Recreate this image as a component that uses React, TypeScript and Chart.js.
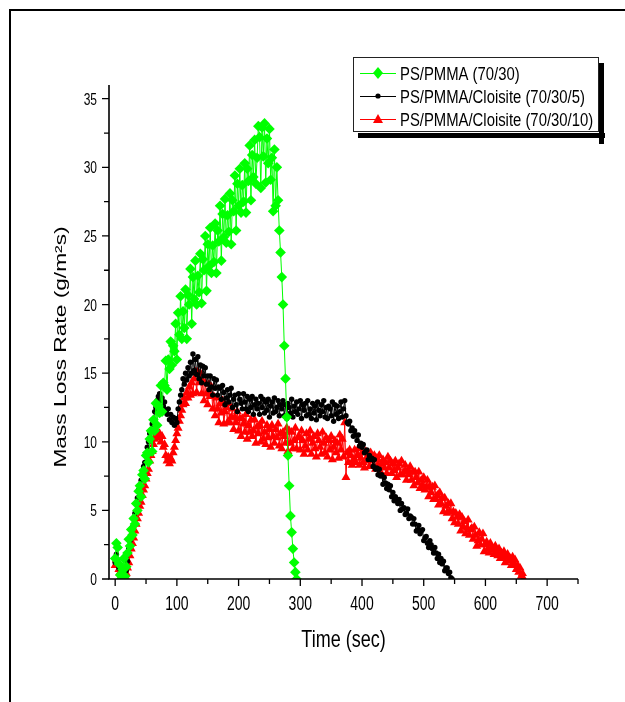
import React, { useEffect, useRef } from 'react';
import { Chart, registerables } from 'chart.js';

Chart.register(...registerables);

// ---------- data ----------
const SERIES_NAMES = [
  'PS/PMMA (70/30)',
  'PS/PMMA/Cloisite (70/30/5)',
  'PS/PMMA/Cloisite (70/30/10)',
];

// sampling interval (sec) of the recorded series
const SAMPLE_INTERVAL = 2;

// PS/PMMA (70/30), t = 0, 2, 4 ... s
const greenValues = [
  1.5, 2.6, 2.3, 1.1, 0.3, 0.0, 0.7, 1.5, 0.2, 0.9,
  1.9, 2.9, 2.4, 3.6, 3.2, 4.4, 4.0, 5.5, 5.0, 6.4,
  6.8, 6.0, 7.6, 7.9, 7.3, 9.0, 9.2, 8.5, 10.2, 10.8,
  9.3, 11.6, 10.8, 12.8, 11.2, 12.6, 12.1, 14.1, 12.2, 14.3,
  14.1, 15.9, 13.8, 16.0, 15.3, 17.3, 15.6, 17.0, 16.6, 18.6,
  16.0, 19.4, 17.8, 20.6, 17.5, 19.5, 18.3, 21.1, 17.5, 20.7,
  20.0, 22.6, 18.6, 22.0, 20.4, 23.2, 20.0, 22.1, 20.9, 23.7,
  20.1, 23.3, 22.5, 25.0, 21.0, 24.4, 22.8, 25.6, 22.3, 24.3,
  23.1, 25.9, 22.3, 25.4, 24.6, 27.2, 23.2, 26.6, 24.9, 27.7,
  24.5, 26.5, 25.3, 28.1, 24.4, 27.6, 26.8, 29.4, 25.4, 28.8,
  27.2, 29.9, 26.7, 28.7, 27.5, 30.3, 26.7, 29.9, 29.0, 31.6,
  27.6, 30.9, 29.3, 32.0, 28.8, 30.7, 33.0, 32.2, 28.5, 32.9,
  30.8, 33.2, 28.9, 32.1, 30.3, 32.8, 29.1, 30.7, 26.8, 31.3,
  27.2, 30.0, 27.6, 25.4, 23.8, 22.0, 20.0, 17.0, 14.6, 11.8,
  9.0, 6.8, 4.6, 3.4, 2.2, 1.2, 0.5, 0.0,
];

// PS/PMMA/Cloisite (70/30/5), t = 0, 2, 4 ... s
const blackValues = [
  1.2, 1.8, 1.4, 0.8, 0.3, 0.0, 0.2, 0.4, 0.1, 0.6,
  1.3, 2.2, 2.8, 3.2, 3.8, 4.4, 4.8, 5.5, 5.9, 6.5,
  6.8, 7.2, 7.6, 8.2, 8.5, 9.0, 9.6, 10.0, 10.6, 10.8,
  11.3, 11.6, 12.2, 12.5, 13.0, 13.3, 13.5, 13.0, 13.2, 12.6,
  12.9, 12.3, 12.0, 12.4, 11.6, 12.0, 11.4, 11.8, 11.2, 11.7,
  11.4, 12.4, 12.9, 13.4, 13.8, 14.6, 14.2, 15.0, 14.5, 15.4,
  14.8, 15.8, 15.0, 16.4, 15.2, 16.0, 14.9, 16.2, 14.6, 15.6,
  14.3, 15.5, 14.8, 15.4, 14.2, 14.8, 13.8, 14.8, 14.0, 13.4,
  14.6, 13.9, 14.5, 13.4, 14.0,
  13.9, 13.1, 14.1, 13.6, 12.7, 13.2, 13.8, 12.9, 13.4, 13.9,
  12.5, 13.1, 13.4, 12.7, 12.2, 13.5, 13.1, 12.8, 12.4, 13.5,
  12.9, 12.4, 13.3, 12.2, 13.1, 12.5, 13.3, 12.0, 12.7, 13.1,
  12.4, 12.8, 12.0, 13.3, 12.5, 13.1, 12.1, 12.9, 12.3, 13.1,
  11.8, 12.6, 12.9, 12.1, 13.2, 12.2, 12.5, 13.0, 11.9, 12.7,
  12.4, 13.0, 11.9, 12.7, 11.7, 12.8, 12.5, 12.1, 13.1, 11.8,
  12.6, 12.2, 12.9, 12.0, 12.4, 13.0, 11.7, 12.7, 12.3, 12.8,
  11.9, 13.0, 12.0, 12.4, 11.7, 12.8, 12.1, 12.6, 11.6, 12.9,
  12.3, 11.9, 12.7, 12.2, 13.0, 11.8, 12.5, 11.7, 12.6, 12.4,
  11.9, 12.9, 11.5, 12.7, 12.0, 12.6, 11.7, 12.2, 12.9, 11.8,
  12.4,
  13.0, 11.9, 11.4,
  11.3, 11.5, 10.8, 11.0, 10.4, 10.8, 10.5, 10.1, 10.5, 9.7,
  9.9, 9.6, 9.8, 9.2, 9.3, 9.4, 8.7, 9.0, 8.7, 8.8,
  8.2, 8.7, 8.0, 8.1, 7.6, 8.0, 7.5, 7.6, 6.9, 7.4,
  7.0, 6.6, 6.9, 6.5, 6.8, 6.0, 6.3, 5.7, 6.0, 5.8,
  5.5, 5.8, 5.0, 5.5, 5.1, 5.2, 4.7, 4.8, 5.1, 4.4,
  4.6, 4.5, 4.0, 4.4, 4.0, 3.5, 3.6, 3.9, 3.3, 3.5,
  3.6, 2.8, 3.0, 3.1, 2.6, 2.3, 2.8, 2.5, 2.2, 1.9,
  2.3, 1.9, 1.5, 1.8, 1.2, 1.5, 1.1, 1.3, 0.6, 0.8,
  0.8, 0.4, 0.5, 0.1, 0.0,
];

// PS/PMMA/Cloisite (70/30/10), t = 0, 2, 4 ... s
const redValues = [
  1.0, 1.4, 1.1, 0.7, 0.5, 0.3, 0.1, 0.0, 0.2, 0.4,
  0.8, 1.2, 1.7, 2.2, 2.6, 3.0, 3.5, 4.0, 4.4, 4.8,
  5.3, 5.6, 6.1, 6.5, 6.8, 7.3, 7.7, 8.0, 8.6, 9.0,
  9.3, 9.8, 10.2, 10.5, 10.7, 10.3, 10.6, 10.0, 10.4, 9.6,
  9.8, 9.0, 8.6, 8.9, 8.4, 8.8, 8.6, 9.2, 9.6, 10.1,
  10.6, 11.0, 11.5, 11.9, 12.3, 12.7, 13.2, 12.8, 13.6, 13.2,
  14.0, 13.4, 14.3, 13.5, 14.6, 15.1,
  13.6, 15.1, 14.3, 15.0, 13.5, 14.4, 13.0, 14.3, 13.5, 12.7,
  14.2, 13.3, 14.0, 12.4, 13.3, 11.9, 13.2, 12.4, 11.4,
  12.8, 12.1, 13.0, 11.3, 12.2, 12.5, 11.4, 12.8, 11.4, 11.8,
  12.4, 10.9, 11.8, 11.4, 12.2, 10.8, 11.7, 10.4, 11.7, 11.3,
  10.7, 12.0, 10.2, 11.2, 10.7, 11.6, 10.4, 10.8, 11.6, 9.9,
  11.1, 10.6, 11.2, 10.0, 11.5, 10.2, 10.7, 9.8, 11.2, 10.3,
  10.9, 9.6, 11.2, 10.4, 9.9, 10.9, 10.3, 11.3, 9.7, 10.6,
  9.5, 10.7, 10.4, 9.9, 11.0, 9.3, 10.8, 9.9, 10.7, 9.5,
  10.1, 11.0, 9.5, 10.3, 10.4, 9.4, 10.8, 10.1, 9.1, 9.7,
  10.6, 9.4, 10.2, 10.8, 9.1, 9.9, 10.4, 9.5, 8.9, 10.6,
  10.1, 9.6, 9.1, 10.7, 9.9, 9.2, 10.3, 8.9, 10.1, 9.4,
  10.4, 8.7, 9.6, 10.1, 9.2, 9.9, 8.8, 10.5, 9.4, 10.2,
  8.9,
  11.4, 7.4,
  9.2, 8.5, 9.4, 9.0, 8.3, 8.7, 9.4, 8.5, 9.0, 9.5,
  8.3, 8.8, 9.2, 8.5, 8.1, 9.3, 8.9, 8.6, 8.2, 9.2,
  8.7, 8.2, 9.0, 8.0, 8.8, 8.3, 9.0, 7.8, 8.4, 8.7,
  8.1, 8.5, 7.7, 8.9, 8.1, 8.6, 7.7, 8.4, 7.9, 8.6,
  7.4, 8.1, 8.4, 7.6, 8.6, 7.6, 7.8, 8.3, 7.2, 7.9,
  7.6, 8.2, 7.2, 7.8, 6.8, 7.8, 7.4, 7.0, 7.8, 6.6,
  7.2, 6.8, 7.4, 6.5, 6.7, 7.2, 6.0, 6.8, 6.3, 6.7,
  5.8, 6.8, 5.8, 6.1, 5.4, 6.3, 5.5, 5.9, 4.9, 5.9,
  5.3, 4.8, 5.5, 4.9, 5.5, 4.4, 4.9, 4.1, 4.8, 4.5,
  4.0, 4.7, 3.5, 4.5, 3.8, 4.2, 3.3, 3.7, 4.3, 3.2,
  3.6, 3.7, 2.9, 3.8, 3.2, 2.4, 2.8, 3.4, 2.5, 2.9,
  3.3, 2.0, 2.5, 2.7, 2.2, 1.9, 2.6, 2.3, 2.1, 1.8,
  2.4, 2.0, 1.7, 2.2, 1.5, 1.9, 1.6, 2.0, 1.2, 1.6,
  1.8, 1.3, 1.5, 1.0, 1.6, 1.1, 1.4, 0.7, 1.0, 0.5,
  0.8, 0.2, 0.4, 0.0,
];

const X_MIN = -10;
const X_MAX = 750;
const Y_MIN = 0;
const Y_MAX = 36;
const X_MAJOR_TICKS = [0, 100, 200, 300, 400, 500, 600, 700];
const X_MINOR_TICKS = [50, 150, 250, 350, 450, 550, 650, 750];
const Y_MAJOR_TICKS = [0, 5, 10, 15, 20, 25, 30, 35];
const Y_MINOR_TICKS = [2.5, 7.5, 12.5, 17.5, 22.5, 27.5, 32.5];
const X_TITLE = 'Time (sec)';
const Y_TITLE = 'Mass Loss Rate (g/m\u00B2s)';

const COLORS = ['#00ff00', '#000000', '#ff0000'];

const FONT = '"Liberation Sans", Arial, sans-serif';

function toPoints(values: number[], interval: number) {
  return values.map((v, i) => ({ x: i * interval, y: v }));
}

function drawText(
  ctx: CanvasRenderingContext2D,
  text: string,
  x: number,
  y: number,
  size: number,
  align: CanvasTextAlign,
  sx: number,
  sy: number,
  rotation = 0,
) {
  ctx.save();
  ctx.translate(x, y);
  if (rotation) ctx.rotate(rotation);
  ctx.scale(sx, sy);
  ctx.font = `${size}px ${FONT}`;
  ctx.textAlign = align;
  ctx.textBaseline = 'alphabetic';
  ctx.fillStyle = '#000';
  ctx.fillText(text, 0, 0);
  ctx.restore();
}

function drawMarker(ctx: CanvasRenderingContext2D, kind: number, cx: number, cy: number) {
  ctx.beginPath();
  if (kind === 0) {
    ctx.moveTo(cx, cy - 6);
    ctx.lineTo(cx + 5, cy);
    ctx.lineTo(cx, cy + 6);
    ctx.lineTo(cx - 5, cy);
    ctx.closePath();
  } else if (kind === 1) {
    ctx.arc(cx, cy, 2.6, 0, Math.PI * 2);
  } else {
    ctx.moveTo(cx, cy - 5);
    ctx.lineTo(cx + 5, cy + 4);
    ctx.lineTo(cx - 5, cy + 4);
    ctx.closePath();
  }
  ctx.fill();
}

const decorPlugin = {
  id: 'decor',
  beforeDraw(chart: any) {
    const ctx: CanvasRenderingContext2D = chart.ctx;
    ctx.save();
    ctx.fillStyle = '#fff';
    ctx.fillRect(0, 0, chart.width, chart.height);
    ctx.strokeStyle = '#000';
    ctx.lineWidth = 2;
    ctx.strokeRect(10, 10, chart.width + 50, chart.height + 50);
    ctx.restore();
  },
  afterDraw(chart: any) {
    const ctx: CanvasRenderingContext2D = chart.ctx;
    const xs = chart.scales.x;
    const ys = chart.scales.y;
    const left = xs.getPixelForValue(X_MIN);
    const right = xs.getPixelForValue(X_MAX);
    const bottom = ys.getPixelForValue(Y_MIN);
    const top = ys.getPixelForValue(Y_MAX);

    ctx.save();
    ctx.strokeStyle = '#000';
    ctx.lineWidth = 1.6;
    ctx.beginPath();
    ctx.moveTo(left, top);
    ctx.lineTo(left, bottom);
    ctx.lineTo(right, bottom);
    ctx.stroke();

    ctx.lineWidth = 1.3;
    ctx.beginPath();
    X_MAJOR_TICKS.forEach((t) => {
      const px = xs.getPixelForValue(t);
      ctx.moveTo(px, bottom);
      ctx.lineTo(px, bottom + 7);
    });
    X_MINOR_TICKS.forEach((t) => {
      const px = xs.getPixelForValue(t);
      ctx.moveTo(px, bottom);
      ctx.lineTo(px, bottom + 5);
    });
    Y_MAJOR_TICKS.forEach((t) => {
      const py = ys.getPixelForValue(t);
      ctx.moveTo(left, py);
      ctx.lineTo(left - 7, py);
    });
    Y_MINOR_TICKS.forEach((t) => {
      const py = ys.getPixelForValue(t);
      ctx.moveTo(left, py);
      ctx.lineTo(left - 5, py);
    });
    ctx.stroke();

    X_MAJOR_TICKS.forEach((t) => {
      drawText(ctx, String(t), xs.getPixelForValue(t), bottom + 31, 14, 'center', 1, 1.4);
    });
    Y_MAJOR_TICKS.forEach((t) => {
      drawText(ctx, String(t), left - 12, ys.getPixelForValue(t) + 6, 12, 'right', 1, 1.4);
    });

    drawText(ctx, X_TITLE, (left + right) / 2, bottom + 68, 18, 'center', 1, 1.3);
    drawText(ctx, Y_TITLE, 66, 347, 16, 'center', 1.42, 1, -Math.PI / 2);

    // legend
    const lx = 353;
    const ly = 57;
    const lw = 245;
    const lh = 74;
    ctx.fillStyle = '#000';
    ctx.fillRect(lx + lw + 1, ly + 6, 5, lh + 7);
    ctx.fillRect(lx + 5, ly + lh + 2, lw + 2, 5);
    ctx.fillStyle = '#fff';
    ctx.fillRect(lx, ly, lw, lh);
    ctx.strokeStyle = '#222';
    ctx.lineWidth = 1;
    ctx.strokeRect(lx + 0.5, ly + 0.5, lw, lh);

    const rows = [73, 96, 119];
    chart.data.datasets.forEach((ds: any, i: number) => {
      const cy = rows[i];
      ctx.strokeStyle = ds.borderColor;
      ctx.lineWidth = 1;
      ctx.beginPath();
      ctx.moveTo(360, cy + 0.5);
      ctx.lineTo(396, cy + 0.5);
      ctx.stroke();
      ctx.fillStyle = ds.borderColor;
      drawMarker(ctx, i, 378, cy);
      drawText(ctx, ds.label, 400, cy + 7, 15, 'left', 0.99, 1.25);
    });
    ctx.restore();
  },
};

export default function App() {
  const ref = useRef<HTMLCanvasElement | null>(null);

  useEffect(() => {
    const canvas = ref.current;
    if (!canvas) return;
    const clip = { left: 6, top: 6, right: 6, bottom: 0 };
    const chart = new Chart(canvas, {
      type: 'line',
      data: {
        datasets: [
          {
            label: SERIES_NAMES[0],
            data: toPoints(greenValues, SAMPLE_INTERVAL),
            borderColor: COLORS[0],
            backgroundColor: COLORS[0],
            borderWidth: 1,
            pointStyle: 'rectRot',
            pointRadius: 5.3,
            pointBorderWidth: 0,
            pointBackgroundColor: COLORS[0],
            tension: 0,
            clip,
          },
          {
            label: SERIES_NAMES[1],
            data: toPoints(blackValues, SAMPLE_INTERVAL),
            borderColor: COLORS[1],
            backgroundColor: COLORS[1],
            borderWidth: 1,
            pointStyle: 'circle',
            pointRadius: 2.7,
            pointBorderWidth: 0,
            pointBackgroundColor: COLORS[1],
            tension: 0,
            clip,
          },
          {
            label: SERIES_NAMES[2],
            data: toPoints(redValues, SAMPLE_INTERVAL),
            borderColor: COLORS[2],
            backgroundColor: COLORS[2],
            borderWidth: 1,
            pointStyle: 'triangle',
            pointRadius: 5.2,
            pointBorderWidth: 0,
            pointBackgroundColor: COLORS[2],
            tension: 0,
            clip,
          },
        ],
      } as any,
      options: {
        responsive: false,
        animation: false,
        events: [],
        layout: { padding: { left: 109, right: 47, top: 85, bottom: 123 } },
        scales: {
          x: { type: 'linear', min: X_MIN, max: X_MAX, display: false },
          y: { type: 'linear', min: Y_MIN, max: Y_MAX, display: false },
        },
        plugins: {
          legend: { display: false },
          tooltip: { enabled: false },
        },
      } as any,
      plugins: [decorPlugin],
    });
    return () => chart.destroy();
  }, []);

  return (
    <div style={{ position: 'absolute', left: 0, top: 0, width: 625, height: 702 }}>
      <canvas ref={ref} width={625} height={702} style={{ display: 'block' }} />
    </div>
  );
}
